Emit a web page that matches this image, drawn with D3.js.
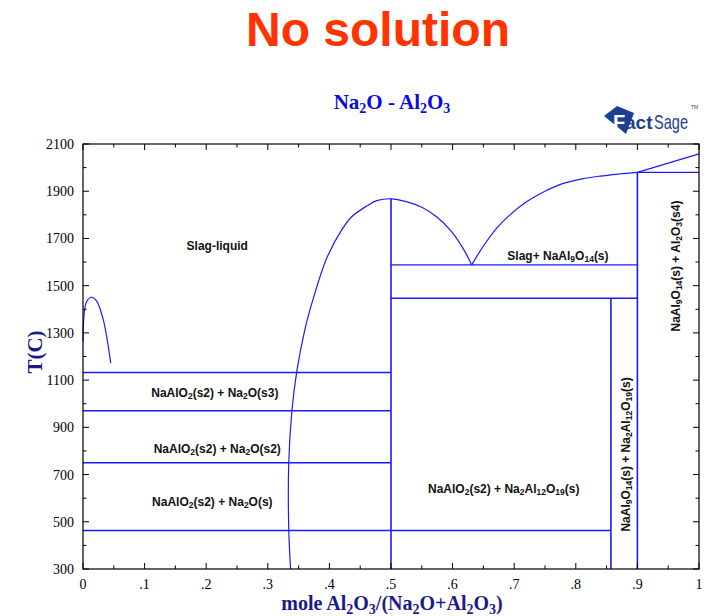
<!DOCTYPE html>
<html>
<head>
<meta charset="utf-8">
<script src="https://cdn.jsdelivr.net/npm/d3@7"></script>
<style>
  body { margin: 0; background: #fff; }
  svg { display: block; }
</style>
</head>
<body>
<svg id="grafico"></svg>
<script>
"use strict"

// tick values and labels
const xTicks = [0, .1, .2, .3, .4, .5, .6, .7, .8, .9, 1];
const xTickLabels = ['0', '.1', '.2', '.3', '.4', '.5', '.6', '.7', '.8', '.9', '1'];
const yTicks = [300, 500, 700, 900, 1100, 1300, 1500, 1700, 1900, 2100];

// liquidus curves [x, T]
const liquidoNa2O = [[0, 1262], [0.002, 1385], [0.006, 1433], [0.014, 1451], [0.022, 1436], [0.033, 1355], [0.045, 1172]];
const liquidoNaAlO2 = [[0.337, 300], [0.334, 470], [0.334, 750], [0.339, 966], [0.347, 1136], [0.36, 1312],
  [0.374, 1447], [0.3956, 1616], [0.42, 1736], [0.4362, 1792], [0.4605, 1837], [0.4768, 1860], [0.5, 1868],
  [0.525, 1856], [0.55, 1832], [0.575, 1790], [0.598, 1730], [0.617, 1658], [0.631, 1588]];
const liquidoNaAl9O14 = [[0.631, 1588], [0.65, 1668], [0.672, 1745], [0.693, 1800], [0.72, 1855], [0.75, 1900],
  [0.774, 1928], [0.81, 1952], [0.839, 1964], [0.87, 1973], [0.9, 1980]];
const liquidoAl2O3 = [[0.9, 1980], [1, 2058]];

// invariant lines: x1, x2, T
const horizontais = [
  [0, 0.5, 1132], [0, 0.5, 970], [0, 0.5, 750], [0, 0.5, 463],
  [0.5, 0.9, 1588], [0.5, 0.9, 1447], [0.5, 0.857, 463], [0.9, 1, 1980]
];
// compounds: x, T1, T2
const verticais = [[0.5, 300, 1868], [0.857, 300, 1447], [0.9, 300, 1980]];

// phase labels: text, x, T, rotated
const rotulos = [
  ['Slag-liquid', 0.218, 1668, false],
  ['Slag+ NaAl{9}O{14}(s)', 0.771, 1626, false],
  ['NaAlO{2}(s2) + Na{2}O(s3)', 0.214, 1045, false],
  ['NaAlO{2}(s2) + Na{2}O(s2)', 0.218, 808, false],
  ['NaAlO{2}(s2) + Na{2}O(s)', 0.21, 583, false],
  ['NaAlO{2}(s2) + Na{2}Al{12}O{19}(s)', 0.683, 640, false],
  ['NaAl{9}O{14}(s) + Na{2}Al{12}O{19}(s)', 0.882, 785, true],
  ['NaAl{9}O{14}(s) + Al{2}O{3}(s4)', 0.963, 1583, true]
];

function escreve(sel, texto, subTam, desce) {
  // splits "A{2}B" into normal / subscript tspans
  const partes = texto.split(/(\{[^}]*\})/).filter(p => p.length);
  let emSub = false;
  partes.forEach(p => {
    if (p[0] === '{') {
      sel.append('tspan').attr('font-size', subTam).attr('dy', emSub ? 0 : desce).text(p.slice(1, -1));
      emSub = true;
    } else {
      const t = sel.append('tspan').text(p);
      if (emSub) t.attr('dy', -desce);
      emSub = false;
    }
  });
}

function iniciar() {
  const largura = 707, altura = 616;
  const margem = { esquerda: 83, direita: 8, superior: 144, inferior: 47 };
  const svg = d3.select('#grafico').attr('width', largura).attr('height', altura);

  const x = d3.scaleLinear().domain([0, 1]).range([margem.esquerda, largura - margem.direita]);
  const y = d3.scaleLinear().domain([300, 2100]).range([altura - margem.inferior, margem.superior]);
  const azul = '#1a1aff';
  const sans = 'Liberation Sans, Arial, sans-serif';
  const serif = 'Liberation Serif, Times New Roman, serif';

  // title
  svg.append('text').attr('x', 378).attr('y', 46).attr('text-anchor', 'middle')
    .attr('font-family', sans).attr('font-weight', 'bold')
    .attr('font-size', 48).attr('fill', '#ff3300').text('No solution');

  const sub = svg.append('text').attr('x', 392).attr('y', 109).attr('text-anchor', 'middle')
    .attr('font-family', serif).attr('font-weight', 'bold')
    .attr('font-size', 21).attr('fill', '#0a0ae0');
  escreve(sub, 'Na{2}O - Al{2}O{3}', 14, 4);

  // logo
  const logo = svg.append('g').attr('transform', 'translate(604,104)');
  logo.append('path').attr('d', 'M0,12 L13,2 L30,9 L22,30 Z').attr('fill', '#1d3f8f');
  logo.append('text').attr('x', 9).attr('y', 25).attr('font-family', sans)
    .attr('font-weight', 'bold').attr('font-size', 20).attr('fill', '#fff').text('F');
  logo.append('text').attr('x', 21).attr('y', 25).attr('font-family', sans)
    .attr('font-weight', 'bold').attr('font-size', 19).attr('fill', '#1d3f8f').text('act');
  logo.append('text').attr('x', 50).attr('y', 25).attr('font-family', sans)
    .attr('font-size', 21).attr('fill', '#1d3f8f').attr('textLength', 34)
    .attr('lengthAdjust', 'spacingAndGlyphs').text('Sage');
  logo.append('text').attr('x', 87).attr('y', 5).attr('font-family', sans)
    .attr('font-size', 5).attr('fill', '#1d3f8f').text('TM');

  // data lines
  const linha = d3.line().x(d => x(d[0])).y(d => y(d[1])).curve(d3.curveCatmullRom.alpha(0.5));
  const curvas = svg.append('g').attr('fill', 'none').attr('stroke', azul).attr('stroke-width', 1.2);
  [liquidoNa2O, liquidoNaAlO2, liquidoNaAl9O14, liquidoAl2O3].forEach(c => {
    curvas.append('path').attr('d', linha(c));
  });
  curvas.selectAll('.h').data(horizontais).enter().append('line').classed('h', true)
    .attr('x1', d => x(d[0])).attr('x2', d => x(d[1]))
    .attr('y1', d => y(d[2])).attr('y2', d => y(d[2])).attr('stroke-width', 1.4);
  curvas.selectAll('.v').data(verticais).enter().append('line').classed('v', true)
    .attr('x1', d => x(d[0])).attr('x2', d => x(d[0]))
    .attr('y1', d => y(d[1])).attr('y2', d => y(d[2])).attr('stroke-width', 1.6);

  // frame and ticks
  const eixos = svg.append('g').attr('stroke', '#000');
  eixos.append('rect').attr('x', x(0)).attr('y', y(2100)).attr('width', x(1) - x(0)).attr('height', y(300) - y(2100))
    .attr('fill', 'none').attr('stroke-width', 1.2);
  const xMenor = d3.range(0, 1.0001, 0.05);
  xMenor.forEach((v, i) => {
    const tam = i % 2 === 0 ? 6 : 3.5;
    eixos.append('line').attr('x1', x(v)).attr('x2', x(v)).attr('y1', y(300)).attr('y2', y(300) - tam);
    eixos.append('line').attr('x1', x(v)).attr('x2', x(v)).attr('y1', y(2100)).attr('y2', y(2100) + tam);
  });
  const yMenor = d3.range(300, 2101, 100);
  yMenor.forEach((v, i) => {
    const tam = i % 2 === 0 ? 6 : 3.5;
    eixos.append('line').attr('x1', x(0)).attr('x2', x(0) + tam).attr('y1', y(v)).attr('y2', y(v));
    eixos.append('line').attr('x1', x(1)).attr('x2', x(1) - tam).attr('y1', y(v)).attr('y2', y(v));
  });

  svg.selectAll('.xl').data(xTicks).enter().append('text').classed('xl', true)
    .attr('x', d => x(d)).attr('y', y(300) + 20).attr('text-anchor', 'middle')
    .attr('font-family', serif).attr('font-size', 14).text((d, i) => xTickLabels[i]);
  svg.selectAll('.yl').data(yTicks).enter().append('text').classed('yl', true)
    .attr('x', x(0) - 9).attr('y', d => y(d) + 5).attr('text-anchor', 'end')
    .attr('font-family', serif).attr('font-size', 14).text(d => d);

  // axis titles
  const tituloX = svg.append('text').attr('x', 392).attr('y', 610).attr('text-anchor', 'middle')
    .attr('font-family', serif).attr('font-weight', 'bold').attr('font-size', 20).attr('fill', '#1a1a8c');
  escreve(tituloX, 'mole Al{2}O{3}/(Na{2}O+Al{2}O{3})', 14, 4);
  svg.append('text').attr('transform', 'translate(42,352) rotate(-90)').attr('text-anchor', 'middle')
    .attr('font-family', serif).attr('font-weight', 'bold').attr('font-size', 21).attr('fill', '#1a1a8c')
    .text('T(C)');

  // phase labels
  rotulos.forEach(r => {
    const t = svg.append('text').attr('text-anchor', 'middle')
      .attr('font-family', sans).attr('font-weight', 'bold')
      .attr('font-size', 12).attr('fill', '#111');
    if (r[3]) t.attr('transform', `translate(${x(r[1]) + 4},${y(r[2])}) rotate(-90)`);
    else t.attr('x', x(r[1])).attr('y', y(r[2]) + 4);
    escreve(t, r[0], 8.5, 2);
  });
}

window.addEventListener('load', iniciar, false);
</script>
</body>
</html>
